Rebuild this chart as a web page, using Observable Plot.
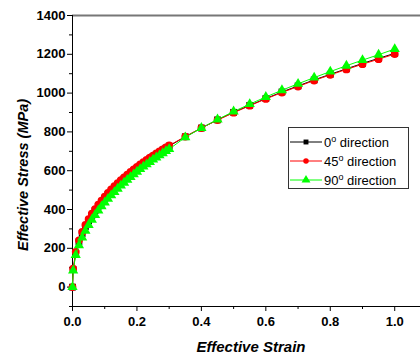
<!DOCTYPE html>
<html>
<head>
<meta charset="utf-8">
<script src="https://cdn.jsdelivr.net/npm/d3@7"></script>
<script src="https://cdn.jsdelivr.net/npm/@observablehq/plot@0.6"></script>
<style>
  html, body { margin: 0; padding: 0; background: #fff; }
  svg { display: block; }
</style>
</head>
<body>
<div id="chart"></div>
<script>
const strain = [0, 0.002, 0.01, 0.02, 0.03, 0.04, 0.05, 0.06, 0.07, 0.08, 0.09, 0.10,
  0.11, 0.12, 0.13, 0.14, 0.15, 0.16, 0.17, 0.18, 0.19, 0.20,
  0.21, 0.22, 0.23, 0.24, 0.25, 0.26, 0.27, 0.28, 0.29, 0.30,
  0.35, 0.40, 0.45, 0.50, 0.55, 0.60, 0.65, 0.70, 0.75, 0.80, 0.85, 0.90, 0.95, 1.00];
const stress0 = [0, 90, 174, 233, 276, 312, 342, 370, 394, 417, 438, 458,
  477, 495, 512, 528, 543, 558, 573, 586, 600, 613,
  626, 638, 650, 662, 673, 684, 695, 706, 716, 727,
  775, 820, 862, 901, 937, 972, 1006, 1037, 1068, 1097, 1125, 1153, 1179, 1205];
const stress45 = [0, 95, 182, 241, 284, 320, 350, 378, 402, 425, 446, 466,
  485, 503, 520, 536, 551, 566, 580, 594, 607, 620,
  632, 644, 656, 667, 678, 689, 700, 710, 720, 730,
  776, 820, 861, 899, 935, 970, 1003, 1034, 1065, 1094, 1122, 1149, 1175, 1201];
const stress90 = [0, 85, 165, 215, 255, 290, 320, 347, 372, 395, 416, 436,
  455, 473, 490, 507, 523, 538, 553, 567, 581, 595,
  608, 621, 633, 645, 657, 668, 679, 690, 701, 711,
  772, 820, 864, 905, 943, 980, 1015, 1048, 1080, 1111, 1141, 1170, 1198, 1227];

const seriesNames = ["0", "45", "90"];
const seriesColors = ["#000000", "#ff0000", "#00ff00"];
const seriesSymbols = ["square", "circle", "triangle"];
const seriesR = [3.8, 3.9, 3.8];

const xMajor = [0, 0.2, 0.4, 0.6, 0.8, 1.0];
const xMinor = [0.1, 0.3, 0.5, 0.7, 0.9];
const yMajor = [0, 200, 400, 600, 800, 1000, 1200, 1400];
const yMinor = [-100, 100, 300, 500, 700, 900, 1100, 1300];

const xLabel = "Effective Strain";
const yLabel = "Effective Stress (MPa)";

const allStress = [stress0, stress45, stress90];
const seriesData = allStress.map(arr => strain.map((s, i) => ({x: s, y: arr[i]})));

const font = "'Liberation Sans', Arial, Helvetica, sans-serif";

const marks = [
  Plot.axisX(xMinor, {tickSize: 3, tickFormat: () => "", label: null}),
  Plot.axisX(xMajor, {tickSize: 5, tickPadding: 5, tickFormat: d3.format(".1f"), label: null}),
  Plot.axisY(yMinor, {tickSize: 3, tickFormat: () => "", label: null}),
  Plot.axisY(yMajor, {tickSize: 5, tickPadding: 2, tickFormat: d3.format("d"), label: null}),
  Plot.ruleY([1400], {stroke: "#777", strokeWidth: 2}),
  Plot.ruleX([0], {stroke: "#000", strokeWidth: 1}),
  Plot.ruleY([-100], {stroke: "#000", strokeWidth: 1})
];
seriesData.forEach((data, k) => {
  marks.push(Plot.line(data, {x: "x", y: "y", stroke: seriesColors[k], strokeWidth: 1}));
  marks.push(Plot.dot(data, {x: "x", y: "y", symbol: () => seriesSymbols[k], r: seriesR[k], fill: seriesColors[k], stroke: "none"}));
});

const chart = Plot.plot({
  width: 420,
  height: 354,
  marginTop: 15,
  marginBottom: 48,
  marginLeft: 72,
  marginRight: 0,
  x: {domain: [0, 1.08]},
  y: {domain: [-100, 1400]},
  style: {fontFamily: font, fontSize: "13px", fontWeight: "bold", color: "#000", background: "#fff", overflow: "visible"},
  marks
});
document.getElementById("chart").appendChild(chart);

const svg = d3.select(chart);
// axis titles
svg.append("text").attr("transform", "translate(28,175) rotate(-90)")
  .attr("text-anchor", "middle").attr("font-family", font).attr("font-size", 14.5)
  .attr("font-weight", "bold").attr("font-style", "italic").attr("fill", "#000").text(yLabel);
svg.append("text").attr("x", 251).attr("y", 352)
  .attr("text-anchor", "middle").attr("font-family", font).attr("font-size", 15)
  .attr("font-weight", "bold").attr("font-style", "italic").attr("fill", "#000").text(xLabel);

// legend drawn inside plot area
const lg = svg.append("g").attr("font-family", font).attr("font-size", 13)
  .attr("font-weight", "normal").attr("text-anchor", "start");
lg.append("rect").attr("x", 288.5).attr("y", 127.5).attr("width", 120).attr("height", 61)
  .attr("fill", "#fff").attr("stroke", "#333").attr("stroke-width", 1);
const rowY = [142, 161, 180];
seriesNames.forEach((name, k) => {
  const y = rowY[k];
  lg.append("line").attr("x1", 290).attr("x2", 322).attr("y1", y).attr("y2", y)
    .attr("stroke", seriesColors[k]).attr("stroke-width", 1);
  const sym = d3.symbol().type(k === 0 ? d3.symbolSquare : k === 1 ? d3.symbolCircle : d3.symbolTriangle)
    .size(k === 2 ? 34 : 24);
  lg.append("path").attr("d", sym()).attr("transform", `translate(306,${y})`).attr("fill", seriesColors[k]);
  const t = lg.append("text").attr("x", 324).attr("y", y + 5).attr("fill", "#000");
  t.append("tspan").text(name);
  t.append("tspan").attr("font-size", 9).attr("dy", -5).text("o");
  t.append("tspan").attr("dy", 5).text(" direction");
});
</script>
</body>
</html>
